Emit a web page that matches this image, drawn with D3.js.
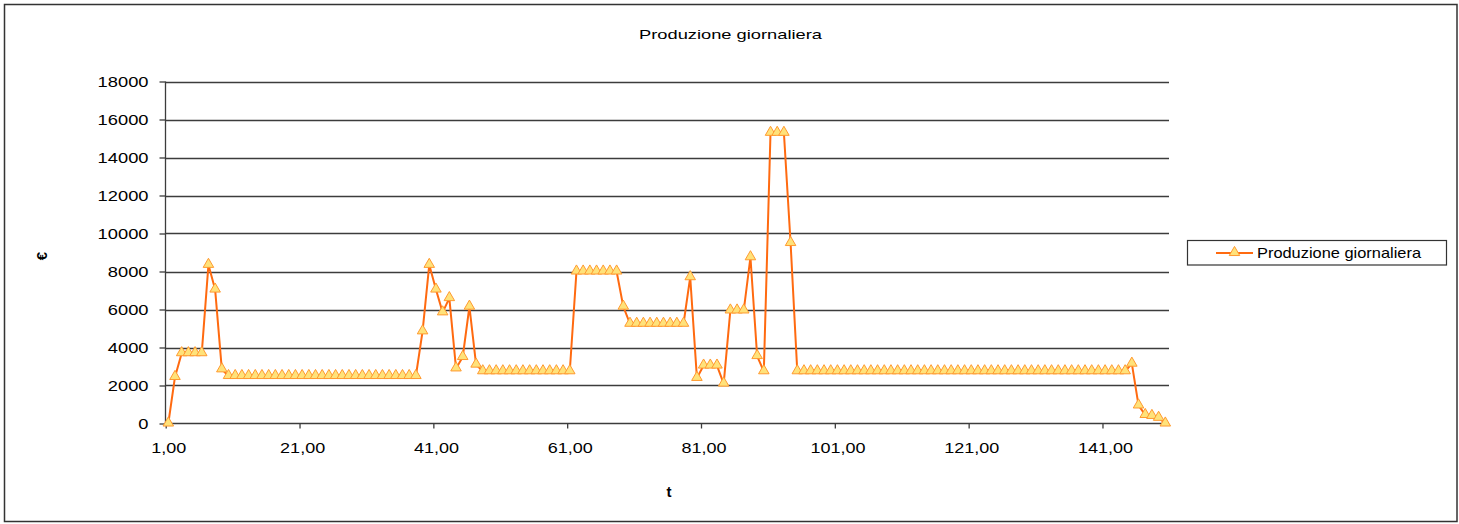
<!DOCTYPE html>
<html>
<head>
<meta charset="utf-8">
<script src="https://cdn.jsdelivr.net/npm/d3@7"></script>
<style>
  html, body { margin: 0; padding: 0; background: #fff; }
  svg { display: block; }
  text { font-family: "Liberation Sans", Arial, sans-serif; fill: #000; }
</style>
</head>
<body>
<svg id="chart" width="1459" height="524"></svg>
<script>
// ---- data ----
const chartTitle = "Produzione giornaliera";
const seriesName = "Produzione giornaliera";
const yTitle = "€";
const xTitle = "t";
// daily production values, t = 1 .. 150
const values = [
  0, 2450, 3700, 3700, 3700, 3700, 8350, 7050, 2850, 2500,
  2500, 2500, 2500, 2500, 2500, 2500, 2500, 2500, 2500, 2500,
  2500, 2500, 2500, 2500, 2500, 2500, 2500, 2500, 2500, 2500,
  2500, 2500, 2500, 2500, 2500, 2500, 2500, 2500, 4850, 8350,
  7050, 5850, 6600, 2900, 3500, 6150, 3100, 2750, 2750, 2750,
  2750, 2750, 2750, 2750, 2750, 2750, 2750, 2750, 2750, 2750,
  2750, 8000, 8000, 8000, 8000, 8000, 8000, 8000, 6150, 5250,
  5250, 5250, 5250, 5250, 5250, 5250, 5250, 5250, 7700, 2400,
  3050, 3050, 3050, 2100, 5950, 5950, 5950, 8750, 3550, 2750,
  15300, 15300, 15300, 9500, 2750, 2750, 2750, 2750, 2750, 2750,
  2750, 2750, 2750, 2750, 2750, 2750, 2750, 2750, 2750, 2750,
  2750, 2750, 2750, 2750, 2750, 2750, 2750, 2750, 2750, 2750,
  2750, 2750, 2750, 2750, 2750, 2750, 2750, 2750, 2750, 2750,
  2750, 2750, 2750, 2750, 2750, 2750, 2750, 2750, 2750, 2750,
  2750, 2750, 2750, 2750, 3150, 950, 450, 400, 300, 0
];
const categories = values.map((v, i) => i + 1);
const xTickValues = [1, 21, 41, 61, 81, 101, 121, 141];
const xTickLabels = ["1,00", "21,00", "41,00", "61,00", "81,00", "101,00", "121,00", "141,00"];
const yTickValues = [0, 2000, 4000, 6000, 8000, 10000, 12000, 14000, 16000, 18000];

// ---- layout ----
const svg = d3.select("#chart");
const axisLeftX = 165.5;
const plotRight = 1169;
const x = d3.scaleLinear().domain([1, categories.length]).range([168.3, 1165.3]);
const y = d3.scaleLinear().domain([0, 18000]).range([423.5, 81.5]);

const lineColor = "#ff6a10";
const markerFill = "#ffe27a";
const markerStroke = "#ff9a30";
const gridColor = "#3c3c3c";

function stretch(sel, k) {
  sel.each(function () {
    const w = this.getComputedTextLength();
    d3.select(this).attr("textLength", w * k).attr("lengthAdjust", "spacingAndGlyphs");
  });
}

// outer border
svg.append("rect")
  .attr("x", 4.5).attr("y", 4.5).attr("width", 1452.5).attr("height", 517)
  .attr("fill", "none").attr("stroke", "#333").attr("stroke-width", 1.5);

// title
svg.append("text")
  .attr("x", 730.5).attr("y", 38.5)
  .attr("text-anchor", "middle")
  .style("font-size", "13.5px")
  .text(chartTitle)
  .call(s => s.attr("textLength", 183).attr("lengthAdjust", "spacingAndGlyphs"));

// gridlines
svg.append("g")
  .selectAll("line")
  .data(yTickValues.filter(d => d > 0))
  .join("line")
  .attr("x1", axisLeftX).attr("x2", plotRight)
  .attr("y1", d => Math.round(y(d)) + 0.5).attr("y2", d => Math.round(y(d)) + 0.5)
  .attr("stroke", gridColor).attr("stroke-width", 1.3);

// y axis
const yAxis = svg.append("g")
  .attr("transform", `translate(${axisLeftX},0)`)
  .call(d3.axisLeft(y).tickValues(yTickValues).tickSize(6).tickSizeOuter(0).tickFormat(d3.format("d")));
yAxis.select(".domain").attr("stroke", gridColor).attr("stroke-width", 1.3)
  .attr("d", `M0,${y(18000)}V${y(0)}`);
yAxis.selectAll(".tick line").attr("stroke", gridColor).attr("stroke-width", 1.3);
yAxis.selectAll(".tick text")
  .attr("x", -17).attr("dy", "0.36em")
  .style("font-size", "15px").style("font-family", "'Liberation Sans', Arial, sans-serif")
  .attr("fill", "#000")
  .call(stretch, 1.22);

// x axis
const xAxis = svg.append("g")
  .attr("transform", `translate(-2.6,${y(0)})`)
  .call(d3.axisBottom(x).tickValues(xTickValues).tickSize(5).tickSizeOuter(0)
    .tickFormat((d, i) => xTickLabels[i]));
xAxis.select(".domain").attr("stroke", gridColor).attr("stroke-width", 1.3)
  .attr("d", `M${axisLeftX + 2.6},0H${plotRight + 2.6}`);
xAxis.selectAll(".tick line").attr("stroke", gridColor).attr("stroke-width", 1.3);
xAxis.selectAll(".tick text")
  .attr("x", 2.6).attr("y", 29.5).attr("dy", 0)
  .style("font-size", "15px").style("font-family", "'Liberation Sans', Arial, sans-serif")
  .attr("fill", "#000")
  .call(stretch, 1.2);

// axis titles
svg.append("text")
  .attr("transform", "translate(47,256) rotate(-90)")
  .attr("text-anchor", "middle")
  .style("font-size", "15px").style("font-weight", "bold")
  .text(yTitle);
svg.append("text")
  .attr("x", 669).attr("y", 497)
  .attr("text-anchor", "middle")
  .style("font-size", "15px").style("font-weight", "bold")
  .text(xTitle);

// series line
const data = categories.map((c, i) => ({ t: c, v: values[i] }));
svg.append("path")
  .datum(data)
  .attr("fill", "none")
  .attr("stroke", lineColor)
  .attr("stroke-width", 2)
  .attr("stroke-linejoin", "round")
  .attr("d", d3.line().x(d => x(d.t)).y(d => y(d.v)));

// markers
const tri = d3.symbol().type(d3.symbolTriangle).size(48);
svg.append("g")
  .selectAll("path")
  .data(data)
  .join("path")
  .attr("transform", d => `translate(${x(d.t)},${y(d.v) - 0.5})`)
  .attr("d", tri)
  .attr("fill", markerFill)
  .attr("stroke", markerStroke)
  .attr("stroke-width", 1);

// legend
const lg = svg.append("g");
lg.append("rect")
  .attr("x", 1187.5).attr("y", 240.5).attr("width", 259).attr("height", 24.5)
  .attr("fill", "#fff").attr("stroke", "#333").attr("stroke-width", 1.2);
lg.append("line")
  .attr("x1", 1216).attr("x2", 1253).attr("y1", 253).attr("y2", 253)
  .attr("stroke", lineColor).attr("stroke-width", 2);
lg.append("path")
  .attr("transform", "translate(1234.5,252.5)")
  .attr("d", tri)
  .attr("fill", markerFill).attr("stroke", markerStroke).attr("stroke-width", 1);
lg.append("text")
  .attr("x", 1257).attr("y", 257.5)
  .style("font-size", "14.5px")
  .text(seriesName)
  .call(s => s.attr("textLength", 164).attr("lengthAdjust", "spacingAndGlyphs"));
</script>
</body>
</html>
